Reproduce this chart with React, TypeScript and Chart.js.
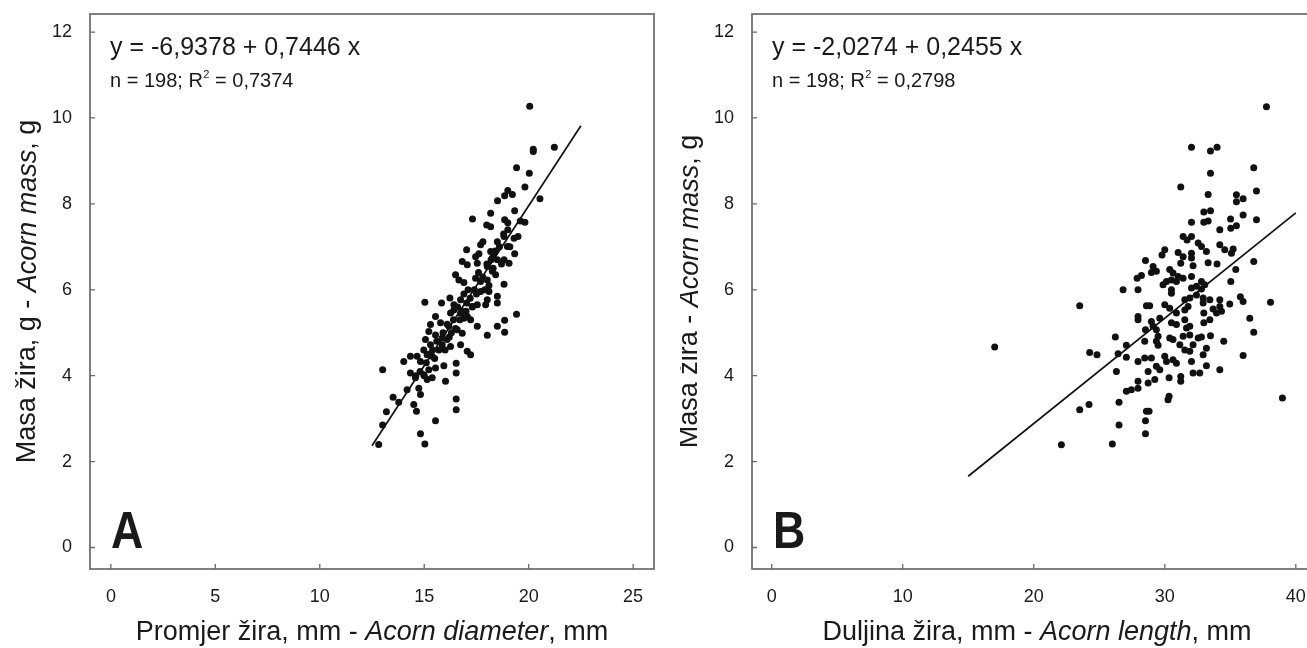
import React, { useEffect, useRef } from "react";
import { Chart, registerables } from "chart.js";
Chart.register(...registerables);

const FONT = "'Liberation Sans', Arial, Helvetica, sans-serif";
const TEXT = "#1a1a1a";
const FRAME = "#6a6a6a";

// ---------- Panel A: acorn diameter (mm) vs acorn mass (g) ----------
const diameterVsMassA: [number, number][] = [
  [20.05, 10.27], [20.22, 9.27], [20.22, 9.22], [21.23, 9.32], [19.42, 8.84], [20.03, 8.71], [19.82, 8.39],
  [20.54, 8.12], [19.0, 8.31], [19.22, 8.22], [18.85, 8.19], [18.51, 8.07], [19.33, 7.84], [17.31, 7.65],
  [18.18, 7.78], [17.99, 7.51], [18.18, 7.47], [18.85, 7.63], [19.0, 7.56], [19.82, 7.57], [19.0, 7.4],
  [19.49, 7.24], [18.82, 7.24], [17.81, 7.12], [17.7, 7.05], [18.5, 7.12], [18.98, 7.01], [17.03, 6.93],
  [17.62, 6.84], [17.46, 6.77], [18.18, 6.89], [18.34, 6.85], [18.26, 6.74], [18.5, 6.7], [19.33, 6.84],
  [18.82, 6.7], [19.06, 6.62], [16.82, 6.66], [17.06, 6.58], [17.54, 6.62], [18.02, 6.54], [18.26, 6.43],
  [18.42, 6.35], [16.5, 6.35], [16.66, 6.23], [16.9, 6.17], [17.46, 6.27], [17.7, 6.19], [18.02, 6.23],
  [18.82, 6.13], [17.7, 5.96], [18.1, 5.96], [18.5, 5.85], [18.5, 5.69], [15.03, 5.71], [15.83, 5.69],
  [16.23, 5.81], [16.42, 5.65], [16.74, 5.77], [17.03, 5.69], [17.3, 5.61], [17.54, 5.65], [17.94, 5.65],
  [18.02, 5.77], [19.42, 5.43], [18.85, 5.29], [18.5, 5.15], [18.85, 5.01], [18.02, 4.94], [17.54, 5.15],
  [17.06, 5.38], [17.22, 5.3], [15.54, 5.38], [16.26, 5.46], [16.42, 5.53], [16.74, 5.46], [16.9, 5.34],
  [15.3, 5.19], [15.78, 5.23], [16.18, 5.15], [16.58, 5.07], [16.82, 4.99], [16.74, 4.72], [15.22, 5.03],
  [15.54, 4.95], [15.86, 4.88], [16.1, 4.84], [15.86, 4.72], [16.26, 4.68], [15.06, 4.84], [15.3, 4.72],
  [14.98, 4.6], [15.14, 4.49], [15.38, 4.45], [17.06, 4.57], [17.22, 4.49], [14.66, 4.45], [14.34, 4.45],
  [14.02, 4.33], [14.82, 4.33], [15.94, 4.23], [15.54, 4.18], [15.22, 4.14], [16.53, 4.29], [16.53, 4.06],
  [13.01, 4.14], [14.34, 4.06], [14.58, 3.95], [14.98, 4.02], [15.14, 3.91], [15.38, 3.95], [16.02, 3.87],
  [14.18, 3.67], [14.74, 3.71], [14.82, 3.56], [13.51, 3.5], [13.78, 3.38], [16.53, 3.46], [16.53, 3.21],
  [13.19, 3.16], [14.5, 3.33], [14.63, 3.17], [15.54, 2.95], [13.01, 2.85], [14.82, 2.65], [12.82, 2.4],
  [15.03, 2.41], [15.1, 4.3], [15.4, 4.6], [15.6, 4.8], [15.9, 5.0], [16.1, 5.2], [16.3, 5.0], [16.4, 5.3],
  [16.6, 5.6], [16.8, 5.5], [16.9, 5.9], [17.1, 6.0], [17.2, 5.8], [17.4, 6.0], [17.6, 6.4], [17.8, 6.3],
  [18.0, 6.6], [18.2, 6.7], [18.4, 6.9], [18.6, 7.0], [18.8, 7.3], [14.6, 4.0], [14.8, 4.1], [15.0, 4.0],
  [15.2, 4.5], [15.5, 4.4], [15.7, 4.6], [16.0, 4.6], [16.2, 4.9], [16.5, 5.1], [16.7, 5.3], [17.0, 5.5],
  [17.3, 5.6], [17.5, 5.9], [17.9, 6.0], [18.1, 6.1], [18.3, 6.5], [18.7, 6.6], [19.1, 7.0], [19.3, 7.2],
  [19.6, 7.6],
];
const fitXA = [12.5, 22.5];
const fitYA = [2.37, 9.82];
const xTicksA = [0, 5, 10, 15, 20, 25];
const equationA = "y = -6,9378 + 0,7446 x";
const statsA = ["n = 198; R", "2", " = 0,7374"];
const xTitleA = [
  { text: "Promjer žira, mm - ", italic: false },
  { text: "Acorn diameter", italic: true },
  { text: ", mm", italic: false },
];
const yTitleA = [
  { text: "Masa žira, g - ", italic: false },
  { text: "Acorn mass", italic: true },
  { text: ", g", italic: false },
];

// ---------- Panel B: acorn length (mm) vs acorn mass (g) ----------
const lengthVsMassB: [number, number][] = [
  [37.76, 10.26], [32.04, 9.32], [33.49, 9.23], [33.99, 9.32], [33.49, 8.71], [36.79, 8.84], [31.22, 8.39],
  [33.31, 8.22], [37.0, 8.3], [35.47, 8.21], [35.98, 8.12], [35.47, 8.05], [32.98, 7.81], [33.49, 7.84],
  [32.04, 7.57], [32.98, 7.57], [33.31, 7.6], [35.02, 7.65], [35.98, 7.74], [37.0, 7.63], [34.2, 7.4],
  [35.04, 7.43], [35.47, 7.49], [31.4, 7.24], [31.7, 7.16], [32.04, 7.24], [32.55, 7.09], [32.8, 7.01],
  [33.18, 6.89], [34.2, 7.05], [34.58, 6.93], [35.09, 6.85], [35.22, 6.95], [30.0, 6.93], [29.79, 6.81],
  [31.02, 6.87], [31.4, 6.77], [32.04, 6.85], [32.04, 6.74], [28.53, 6.68], [31.22, 6.62], [32.16, 6.56],
  [33.31, 6.63], [33.99, 6.6], [36.79, 6.66], [29.11, 6.54], [29.36, 6.43], [28.98, 6.4], [30.38, 6.47],
  [30.63, 6.39], [31.02, 6.31], [30.51, 6.23], [30.89, 6.19], [31.4, 6.27], [32.04, 6.31], [27.89, 6.27],
  [28.22, 6.33], [35.42, 6.47], [29.87, 6.12], [30.13, 6.19], [32.8, 6.19], [33.05, 6.12], [35.04, 6.19],
  [26.82, 6.0], [27.96, 6.0], [30.51, 6.0], [32.04, 6.04], [32.42, 6.08], [32.8, 6.02], [30.51, 5.92],
  [31.53, 5.77], [31.91, 5.81], [32.42, 5.88], [23.51, 5.63], [28.6, 5.63], [28.85, 5.63], [30.0, 5.65],
  [30.38, 5.57], [30.89, 5.46], [31.53, 5.53], [31.78, 5.61], [32.93, 5.81], [33.44, 5.77], [34.2, 5.77],
  [32.93, 5.69], [34.2, 5.61], [33.69, 5.55], [34.33, 5.5], [34.96, 5.67], [35.77, 5.84], [35.98, 5.73],
  [38.07, 5.71], [27.96, 5.38], [27.96, 5.3], [28.98, 5.26], [29.62, 5.34], [30.51, 5.23], [30.89, 5.19],
  [31.53, 5.3], [31.66, 5.11], [31.91, 5.15], [32.98, 5.46], [32.98, 5.23], [33.44, 5.3], [33.95, 5.46],
  [36.49, 5.34], [28.53, 5.07], [29.11, 5.15], [29.36, 5.07], [29.49, 4.92], [29.36, 4.8], [26.23, 4.9],
  [28.47, 4.8], [30.38, 4.88], [30.63, 4.84], [31.4, 4.92], [31.91, 4.95], [32.55, 4.88], [32.8, 4.9],
  [33.49, 4.93], [36.79, 5.01], [34.5, 4.8], [27.07, 4.71], [29.49, 4.71], [31.15, 4.72], [31.53, 4.6],
  [31.91, 4.57], [32.16, 4.72], [33.18, 4.64], [32.93, 4.49], [24.27, 4.54], [24.83, 4.49], [26.44, 4.51],
  [27.07, 4.43], [27.96, 4.33], [28.47, 4.41], [28.98, 4.41], [30.0, 4.45], [30.13, 4.33], [30.63, 4.37],
  [30.89, 4.29], [32.04, 4.33], [35.98, 4.47], [29.36, 4.22], [29.62, 4.14], [28.73, 4.1], [33.18, 4.23],
  [34.2, 4.14], [32.16, 4.06], [32.67, 4.06], [26.31, 4.1], [30.33, 3.95], [31.22, 3.98], [31.22, 3.87],
  [27.96, 3.87], [28.73, 3.83], [29.24, 3.91], [27.07, 3.64], [27.45, 3.67], [27.96, 3.71], [30.33, 3.52],
  [30.25, 3.44], [38.98, 3.48], [26.51, 3.38], [24.22, 3.33], [23.51, 3.21], [28.6, 3.17], [28.8, 3.17],
  [28.53, 2.95], [26.51, 2.85], [28.53, 2.65], [22.11, 2.39], [26.0, 2.41], [17.02, 4.67],
];
const fitXB = [15, 40];
const fitYB = [1.66, 7.79];
const xTicksB = [0, 10, 20, 30, 40];
const equationB = "y = -2,0274 + 0,2455 x";
const statsB = ["n = 198; R", "2", " = 0,2798"];
const xTitleB = [
  { text: "Duljina žira, mm - ", italic: false },
  { text: "Acorn length", italic: true },
  { text: ", mm", italic: false },
];
const yTitleB = [
  { text: "Masa žira - ", italic: false },
  { text: "Acorn mass", italic: true },
  { text: ", g", italic: false },
];

const yTicks = [0, 2, 4, 6, 8, 10, 12];

type Seg = { text: string; italic: boolean };

function drawRich(ctx: CanvasRenderingContext2D, segs: Seg[], size: number, cx: number, cy: number, rotate: boolean) {
  ctx.save();
  ctx.translate(cx, cy);
  if (rotate) ctx.rotate(-Math.PI / 2);
  ctx.fillStyle = TEXT;
  ctx.textAlign = "left";
  ctx.textBaseline = rotate ? "middle" : "alphabetic";
  const fonts = segs.map((s) => `${s.italic ? "italic " : ""}${size}px ${FONT}`);
  let total = 0;
  const widths = segs.map((s, i) => {
    ctx.font = fonts[i];
    const w = ctx.measureText(s.text).width;
    total += w;
    return w;
  });
  let x = -total / 2;
  segs.forEach((s, i) => {
    ctx.font = fonts[i];
    ctx.fillText(s.text, x, 0);
    x += widths[i];
  });
  ctx.restore();
}

type PanelCfg = {
  points: [number, number][];
  fitX: number[];
  fitY: number[];
  xTicks: number[];
  xMin: number;
  xMax: number;
  yAxisWidth: number;
  padRight: number;
  equation: string;
  stats: string[];
  letter: string;
  xTitle: Seg[];
  yTitle: Seg[];
};

function buildConfig(cfg: PanelCfg): any {
  const decor = {
    id: "decor",
    afterDraw(chart: any) {
      const ctx: CanvasRenderingContext2D = chart.ctx;
      const a = chart.chartArea;
      const xs = chart.scales.x;
      const ys = chart.scales.y;
      ctx.save();
      // frame
      ctx.strokeStyle = FRAME;
      ctx.lineWidth = 1.7;
      ctx.strokeRect(a.left, a.top, a.right - a.left, a.bottom - a.top);
      // inward tick marks
      ctx.lineWidth = 1.3;
      ctx.beginPath();
      cfg.xTicks.forEach((v) => {
        const px = xs.getPixelForValue(v);
        ctx.moveTo(px, a.bottom);
        ctx.lineTo(px, a.bottom - 5);
      });
      yTicks.forEach((v) => {
        const py = ys.getPixelForValue(v);
        ctx.moveTo(a.left, py);
        ctx.lineTo(a.left + 5, py);
      });
      ctx.stroke();
      // equation
      ctx.fillStyle = TEXT;
      ctx.textAlign = "left";
      ctx.textBaseline = "alphabetic";
      ctx.font = `25px ${FONT}`;
      const ex = a.left + 20;
      ctx.fillText(cfg.equation, ex, 55);
      ctx.font = `20px ${FONT}`;
      let sx = ex;
      ctx.fillText(cfg.stats[0], sx, 87);
      sx += ctx.measureText(cfg.stats[0]).width;
      ctx.font = `11px ${FONT}`;
      ctx.fillText(cfg.stats[1], sx + 0.5, 78);
      sx += ctx.measureText(cfg.stats[1]).width + 0.5;
      ctx.font = `20px ${FONT}`;
      ctx.fillText(cfg.stats[2], sx, 87);
      // panel letter (slightly condensed bold)
      ctx.save();
      ctx.translate(a.left + 21, 548);
      ctx.scale(0.86, 1);
      ctx.font = `bold 52px ${FONT}`;
      ctx.fillText(cfg.letter, 0, 0);
      ctx.restore();
      ctx.restore();
      // axis titles
      drawRich(ctx, cfg.xTitle, 27, (a.left + a.right) / 2, 640, false);
      drawRich(ctx, cfg.yTitle, 27, a.left - 62, (a.top + a.bottom) / 2, true);
    },
  };

  return {
    type: "scatter",
    data: {
      datasets: [
        {
          type: "scatter",
          data: cfg.points.map(([x, y]) => ({ x, y })),
          pointRadius: 3.5,
          pointHoverRadius: 3.5,
          pointBackgroundColor: "#111",
          pointBorderWidth: 0,
          borderWidth: 0,
        },
        {
          type: "line",
          data: cfg.fitX.map((x, i) => ({ x, y: cfg.fitY[i] })),
          borderColor: "#111",
          borderWidth: 1.7,
          pointRadius: 0,
          fill: false,
          showLine: true,
          tension: 0,
        },
      ],
    },
    options: {
      animation: false,
      responsive: false,
      events: [],
      layout: { padding: { top: 14, right: cfg.padRight, left: 0, bottom: 0 } },
      plugins: { legend: { display: false }, tooltip: { enabled: false } },
      scales: {
        x: {
          type: "linear",
          position: "bottom",
          min: cfg.xMin,
          max: cfg.xMax,
          afterBuildTicks: (s: any) => {
            s.ticks = cfg.xTicks.map((v) => ({ value: v }));
          },
          afterFit: (s: any) => {
            s.height = 79;
            s.paddingLeft = 0;
            s.paddingRight = 0;
          },
          grid: { display: false, drawTicks: false },
          border: { display: false },
          ticks: { padding: 17, color: TEXT, font: { family: FONT, size: 18 }, maxRotation: 0 },
        },
        y: {
          type: "linear",
          min: -0.5,
          max: 12.42,
          afterBuildTicks: (s: any) => {
            s.ticks = yTicks.map((v) => ({ value: v }));
          },
          afterFit: (s: any) => {
            s.width = cfg.yAxisWidth;
            s.paddingTop = 0;
            s.paddingBottom = 0;
          },
          grid: { display: false, drawTicks: false },
          border: { display: false },
          ticks: { padding: 18, color: TEXT, font: { family: FONT, size: 18 } },
        },
      },
    },
    plugins: [decor],
  };
}

function Panel({ cfg, left, width }: { cfg: PanelCfg; left: number; width: number }) {
  const ref = useRef<HTMLCanvasElement | null>(null);
  useEffect(() => {
    if (!ref.current) return;
    const chart = new Chart(ref.current, buildConfig(cfg));
    return () => chart.destroy();
  }, []);
  return (
    <canvas
      ref={ref}
      width={width}
      height={648}
      style={{ position: "absolute", left, top: 0, width, height: 648 }}
    />
  );
}

const panelA: PanelCfg = {
  points: diameterVsMassA,
  fitX: fitXA,
  fitY: fitYA,
  xTicks: xTicksA,
  xMin: -1,
  xMax: 26,
  yAxisWidth: 90,
  padRight: 26,
  equation: equationA,
  stats: statsA,
  letter: "A",
  xTitle: xTitleA,
  yTitle: yTitleA,
};

const panelB: PanelCfg = {
  points: lengthVsMassB,
  fitX: fitXB,
  fitY: fitYB,
  xTicks: xTicksB,
  xMin: -1.5,
  xMax: 42,
  yAxisWidth: 72,
  padRight: 38,
  equation: equationB,
  stats: statsB,
  letter: "B",
  xTitle: xTitleB,
  yTitle: yTitleB,
};

export default function App() {
  return (
    <div
      style={{
        position: "absolute",
        left: 0,
        top: 0,
        width: 1307,
        height: 648,
        overflow: "hidden",
        background: "#fff",
      }}
    >
      <Panel cfg={panelA} left={0} width={680} />
      <Panel cfg={panelB} left={680} width={680} />
    </div>
  );
}
